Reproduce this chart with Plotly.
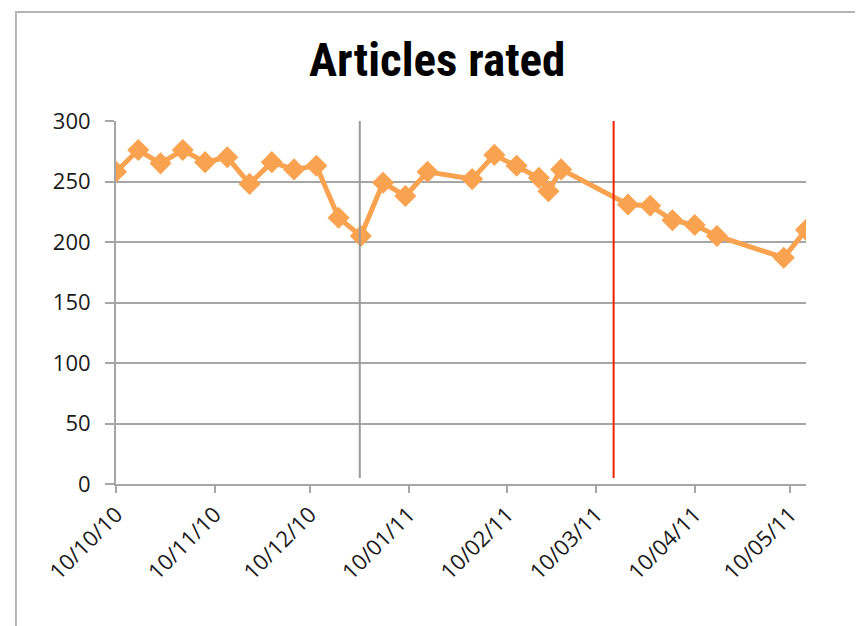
import plotly.graph_objects as go

# ---- data ----
dates = [
    "2010-10-10", "2010-10-17", "2010-10-24", "2010-10-31", "2010-11-07",
    "2010-11-14", "2010-11-21", "2010-11-28", "2010-12-05", "2010-12-12",
    "2010-12-19", "2010-12-26", "2011-01-02", "2011-01-09", "2011-01-16",
    "2011-01-30", "2011-02-06", "2011-02-13", "2011-02-20", "2011-02-23",
    "2011-02-27", "2011-03-20", "2011-03-27", "2011-04-03", "2011-04-10",
    "2011-04-17", "2011-05-08", "2011-05-15",
]
articles_rated = [
    258, 276, 265, 276, 266,
    270, 248, 266, 260, 263,
    220, 205, 249, 238, 258,
    252, 272, 263, 253, 242,
    260, 231, 230, 218, 214,
    205, 187, 210,
]
gray_marker_date = "2010-12-25 16:00"
red_marker_date = "2011-03-15 12:00"
x_range = ["2010-10-10", "2011-05-15"]
y_tick_values = [0, 50, 100, 150, 200, 250, 300]

ORANGE = "#F9A24F"
GRID = "#a6a6a6"
TICKFONT = dict(family="Open Sans, Liberation Sans, sans-serif", size=22, color="#1a1a1a")

fig = go.Figure()
fig.add_trace(go.Scatter(
    x=dates, y=articles_rated, mode="lines+markers",
    line=dict(color=ORANGE, width=5),
    marker=dict(symbol="diamond", size=17, color=ORANGE),
    showlegend=False,
))

fig.update_layout(
    width=855, height=618, autosize=False,
    margin=dict(l=108, r=57, t=113, b=142),
    paper_bgcolor="white", plot_bgcolor="white",
    title=dict(
        text="<b>Articles rated</b>",
        x=0.502, xanchor="center", y=0.916, yanchor="middle",
        font=dict(family="Roboto Condensed, Liberation Sans Narrow, Arial Narrow, DejaVu Sans Condensed, sans-serif",
                  size=47, color="black"),
    ),
    xaxis=dict(
        type="date", range=x_range,
        tick0="2010-10-10", dtick="M1", tickformat="%d/%m/%y",
        tickangle=-45, tickfont=TICKFONT,
        ticks="outside", ticklen=7, tickwidth=2, tickcolor=GRID,
        showline=True, linecolor=GRID, linewidth=2,
        showgrid=False, zeroline=False,
    ),
    yaxis=dict(
        range=[0, 300], tickvals=y_tick_values,
        tickfont=TICKFONT,
        ticks="outside", ticklen=9, tickwidth=2, tickcolor=GRID,
        ticklabelstandoff=10,
        showline=True, linecolor=GRID, linewidth=2,
        showgrid=True, gridcolor=GRID, gridwidth=2,
        zeroline=False,
    ),
    shapes=[
        dict(type="line", xref="x", yref="y", x0=gray_marker_date, x1=gray_marker_date,
             y0=5, y1=300, line=dict(color="#9a9a9a", width=2)),
        dict(type="line", xref="x", yref="y", x0=red_marker_date, x1=red_marker_date,
             y0=5, y1=303, line=dict(color="#ee2200", width=2)),
        dict(type="rect", xref="paper", yref="paper", x0=-0.145, x1=1.074,
             y0=-0.6, y1=1.30, line=dict(color="#b5b5b5", width=2), layer="below"),
    ],
)

fig.write_html("out.html")
